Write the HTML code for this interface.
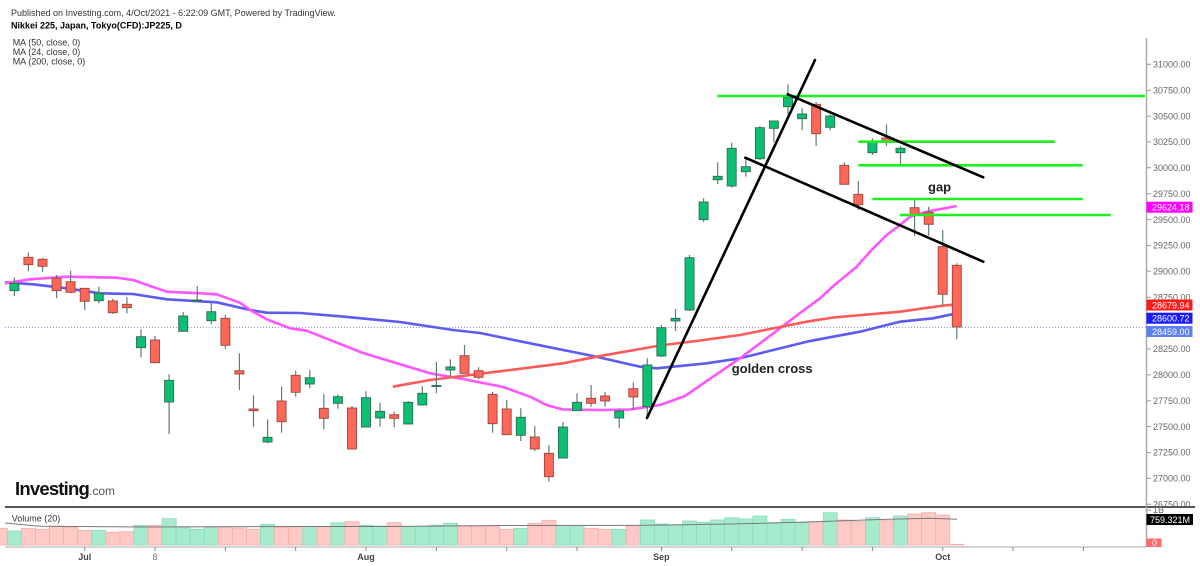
<!DOCTYPE html>
<html><head><meta charset="utf-8">
<style>
html,body{margin:0;padding:0;background:#fff;}
body{width:1200px;height:566px;overflow:hidden;}
svg{display:block;font-family:"Liberation Sans",Arial,sans-serif;}
.w{stroke:#5f7f70;stroke-width:1.2;fill:none;}
.g{fill:#0dbf72;stroke:#2f6b50;stroke-width:0.9;}
.r{fill:#fc6758;stroke:#9c463d;stroke-width:0.9;}
.vg{fill:#a7ebcf;stroke:#8bdbbb;stroke-width:0.8;}
.vr{fill:#ffc9c5;stroke:#f6aea8;stroke-width:0.8;}
.ax{font-size:9px;fill:#666;}
.gl{stroke:#1ef01e;stroke-width:2.6;}
.bl{stroke:#000;stroke-width:2.6;stroke-linecap:round;}
</style></head>
<body>
<svg width="1200" height="566" viewBox="0 0 1200 566" xmlns="http://www.w3.org/2000/svg">
<rect width="1200" height="566" fill="#fff"/>

<!-- header -->
<text x="11" y="16" font-size="9" fill="#333">Published on Investing.com, 4/Oct/2021 - 6:22:09 GMT, Powered by TradingView.</text>
<text x="11" y="28.3" font-size="9" font-weight="bold" fill="#000">Nikkei 225, Japan, Tokyo(CFD):JP225, D</text>
<text x="12.7" y="45.5" font-size="9" fill="#333">MA (50, close, 0)</text>
<text x="12.7" y="55" font-size="9" fill="#333">MA (24, close, 0)</text>
<text x="12.7" y="64.3" font-size="9" fill="#333">MA (200, close, 0)</text>

<!-- price dotted line -->
<line x1="5" y1="327.5" x2="1146" y2="327.5" stroke="#8a9cf0" stroke-width="1" stroke-dasharray="1,2"/>

<!-- MA lines -->
<polyline fill="none" stroke="#5c5cf2" stroke-width="2.6" stroke-linejoin="round" points="5,282.3 33,284.3 66.7,288.3 100,293.3 133,294 166.7,299.3 216.7,302.3 250,310 266.7,312.7 300,313 340,316.3 400,322 453,330 480,333 530,343.3 593,356 640,366.7 656.7,368.3 706.7,363.3 740,358.3 773.3,350 806.7,341.7 833,336.7 860,331.7 900,321.7 933,318.3 956.7,313.3"/>
<polyline fill="none" stroke="#ff55ff" stroke-width="2.6" stroke-linejoin="round" points="5,283.3 30,279.3 66.7,276.7 116.7,277.7 133,280 166.7,291.7 200,293.3 216.7,294.3 240,302.7 250,310 266.7,319.3 290,328.3 306.7,330.7 330,340 363,353 396.7,363.3 430,373.3 463,379 503,387 530,396.7 546.7,405 563,409.5 600,410 630,409.5 660,405 685,396 703.3,383.3 740,358.3 780,328.3 800,313 820,298.3 833.3,286 856.7,266.7 870,251.7 886.7,235 900,225 910,216.7 926.7,211.7 956.7,206"/>
<polyline fill="none" stroke="#ff5a5a" stroke-width="2.6" stroke-linejoin="round" points="392.7,386.7 430,380 496.7,371.7 563,363.3 596.7,356.7 640,349 660,345.5 700,340.5 740,335 780,327 806.7,321.7 833,317.5 900,311.7 940,306 956.7,304.3"/>

<!-- wicks -->
<path class="w" d="M14.4 277.3V296M28.4 252.7V271.3M42.5 258V272.3M56.6 275V298.3M70.6 270.7V293.3M84.7 288.3V310M98.8 286.7V303.3M112.8 298.7V314M126.9 297.3V313.3M141 329.3V357.3M155 336V362.7M169.1 374.3V434M183.2 312V331.3M197.2 286V301M211.3 301.7V324.3M225.4 315V348.7M239.4 353.3V390M253.5 395.3V426.7M267.6 419.3V443.3M281.6 386.7V432.7M295.7 370.7V396.7M309.8 370V388.3M323.8 394V429.3M337.9 394.3V408.7M352 406V449M366 391.3V427M380.1 402.7V426.7M394.2 411.7V427.3M408.2 401V424M422.3 386V405M436.4 361.7V393.3M450.4 359.3V376.7M464.5 345V373.3M478.6 367.3V379.3M492.6 391.7V432.7M506.7 400V434.7M520.8 408.3V441M534.8 426V450.7M548.9 445V481.7M562.9 422V458M577 393.3V410.7M591.1 385V406.7M605.1 392V406.7M619.2 408.3V428.3M633.3 382.3V410M647.3 358.3V416.7M661.4 325V357M675.5 309V331M689.5 255V311M703.6 198.3V222.3M717.7 162.3V184M731.7 142.7V187.7M745.8 156.7V176.7M759.9 126V160M773.9 121V142.3M788 84.3V114.3M802.1 108.3V130.3M816.1 102V146M830.2 114.3V130M844.3 162.3V184.3M858.3 181V210M872.4 138.3V155M886.5 124.3V146M900.5 146V166M914.6 200V235.7M928.7 206.7V235.7M942.7 230V305M956.8 263.3V339.3"/>

<!-- bodies -->
<rect class="g" x="9.9" y="283.3" width="9" height="7.4"/>
<rect class="r" x="23.9" y="257.3" width="9" height="7.4"/>
<rect class="r" x="38" y="259.3" width="9" height="7"/>
<rect class="r" x="52.1" y="278.3" width="9" height="12.4"/>
<rect class="r" x="66.1" y="281.7" width="9" height="10.6"/>
<rect class="r" x="80.2" y="288.3" width="9" height="13"/>
<rect class="g" x="94.3" y="293.3" width="9" height="7.4"/>
<rect class="r" x="108.3" y="301" width="9" height="11.7"/>
<rect class="r" x="122.4" y="304.3" width="9" height="3.4"/>
<rect class="g" x="136.5" y="336.7" width="9" height="11"/>
<rect class="r" x="150.5" y="340" width="9" height="22.7"/>
<rect class="g" x="164.6" y="380.3" width="9" height="21.7"/>
<rect class="g" x="178.7" y="316" width="9" height="15.3"/>
<rect class="g" x="192.7" y="300" width="9" height="1"/>
<rect class="g" x="206.8" y="311.7" width="9" height="9"/>
<rect class="r" x="220.9" y="318.3" width="9" height="27"/>
<rect class="r" x="234.9" y="370.7" width="9" height="3.3"/>
<rect class="r" x="249" y="409" width="9" height="1.7"/>
<rect class="g" x="263.1" y="437.3" width="9" height="4.7"/>
<rect class="r" x="277.1" y="401" width="9" height="20.7"/>
<rect class="r" x="291.2" y="375.3" width="9" height="17"/>
<rect class="g" x="305.3" y="377.7" width="9" height="6.3"/>
<rect class="r" x="319.3" y="408.3" width="9" height="10"/>
<rect class="g" x="333.4" y="396.7" width="9" height="6.6"/>
<rect class="r" x="347.5" y="408" width="9" height="41"/>
<rect class="g" x="361.5" y="397.7" width="9" height="29.3"/>
<rect class="g" x="375.6" y="411.3" width="9" height="6.7"/>
<rect class="r" x="389.7" y="414.7" width="9" height="3.6"/>
<rect class="g" x="403.7" y="402.3" width="9" height="21.7"/>
<rect class="g" x="417.8" y="393.3" width="9" height="11.7"/>
<rect class="g" x="431.9" y="385.5" width="9" height="1"/>
<rect class="g" x="445.9" y="367" width="9" height="3"/>
<rect class="r" x="460" y="355.7" width="9" height="17.6"/>
<rect class="r" x="474.1" y="370.7" width="9" height="6.6"/>
<rect class="r" x="488.1" y="394.3" width="9" height="29.4"/>
<rect class="r" x="502.2" y="409" width="9" height="25.7"/>
<rect class="g" x="516.3" y="417.3" width="9" height="18"/>
<rect class="r" x="530.3" y="437" width="9" height="12"/>
<rect class="r" x="544.4" y="453.3" width="9" height="23.4"/>
<rect class="g" x="558.4" y="427" width="9" height="31"/>
<rect class="g" x="572.5" y="402.3" width="9" height="8.4"/>
<rect class="r" x="586.6" y="398.3" width="9" height="5"/>
<rect class="r" x="600.6" y="396" width="9" height="5"/>
<rect class="g" x="614.7" y="411" width="9" height="7"/>
<rect class="r" x="628.8" y="388.7" width="9" height="8.3"/>
<rect class="g" x="642.8" y="365" width="9" height="41.7"/>
<rect class="g" x="656.9" y="327.7" width="9" height="28.3"/>
<rect class="g" x="671" y="318.3" width="9" height="2.7"/>
<rect class="g" x="685" y="257.7" width="9" height="52.3"/>
<rect class="g" x="699.1" y="202" width="9" height="17.7"/>
<rect class="g" x="713.2" y="176.3" width="9" height="3.4"/>
<rect class="g" x="727.2" y="148.3" width="9" height="37.7"/>
<rect class="g" x="741.3" y="166.7" width="9" height="5"/>
<rect class="g" x="755.4" y="127.7" width="9" height="31"/>
<rect class="g" x="769.4" y="121" width="9" height="7.3"/>
<rect class="g" x="783.5" y="97.3" width="9" height="9.4"/>
<rect class="g" x="797.6" y="114" width="9" height="4.7"/>
<rect class="r" x="811.6" y="104.3" width="9" height="29.4"/>
<rect class="g" x="825.7" y="116" width="9" height="11.3"/>
<rect class="r" x="839.8" y="165.3" width="9" height="19"/>
<rect class="r" x="853.8" y="194.3" width="9" height="10.4"/>
<rect class="g" x="867.9" y="142" width="9" height="10.7"/>
<rect class="r" x="882" y="138" width="9" height="4.3"/>
<rect class="g" x="896" y="148.3" width="9" height="4.4"/>
<rect class="r" x="910.1" y="207.7" width="9" height="7"/>
<rect class="r" x="924.2" y="212.3" width="9" height="12"/>
<rect class="r" x="938.2" y="246.7" width="9" height="47.6"/>
<rect class="r" x="952.3" y="265.3" width="9" height="61.7"/>

<!-- green horizontal lines -->
<line class="gl" x1="717.3" y1="96" x2="1145" y2="96"/>
<line class="gl" x1="858.3" y1="141.7" x2="1054.7" y2="141.7"/>
<line class="gl" x1="858.3" y1="165.3" x2="1082.7" y2="165.3"/>
<line class="gl" x1="872.3" y1="199" x2="1082.7" y2="199"/>
<line class="gl" x1="900" y1="215" x2="1110.7" y2="215"/>

<!-- black trend lines -->
<line class="bl" x1="647" y1="418" x2="815" y2="60"/>
<line class="bl" x1="787.7" y1="94.3" x2="983.3" y2="177.3"/>
<line class="bl" x1="745.3" y1="157.7" x2="983.3" y2="261.7"/>

<text x="928" y="191.3" font-size="13" font-weight="bold" fill="#222">gap</text>
<text x="731.7" y="372.8" font-size="13" font-weight="bold" fill="#222">golden cross</text>

<!-- logo -->
<text x="15" y="495" font-size="18.5" font-weight="bold" fill="#111" letter-spacing="-0.8">Investing</text>
<text x="89" y="495" font-size="12" fill="#555">.com</text>

<!-- volume bars -->
<g>
<rect class="vr" x="-6.7" y="528.3" width="14.07" height="16.7"/>
<rect class="vg" x="7.3" y="531" width="14.07" height="14"/>
<rect class="vr" x="21.4" y="528.3" width="14.07" height="16.7"/>
<rect class="vr" x="35.5" y="529.3" width="14.07" height="15.7"/>
<rect class="vr" x="49.5" y="526" width="14.07" height="19"/>
<rect class="vr" x="63.6" y="527.3" width="14.07" height="17.7"/>
<rect class="vr" x="77.7" y="530.3" width="14.07" height="14.7"/>
<rect class="vg" x="91.7" y="530.3" width="14.07" height="14.7"/>
<rect class="vr" x="105.8" y="532.3" width="14.07" height="12.7"/>
<rect class="vr" x="119.9" y="531.7" width="14.07" height="13.3"/>
<rect class="vg" x="133.9" y="525.3" width="14.07" height="19.7"/>
<rect class="vr" x="148" y="525.3" width="14.07" height="19.7"/>
<rect class="vg" x="162.1" y="518.7" width="14.07" height="26.3"/>
<rect class="vg" x="176.1" y="526.7" width="14.07" height="18.3"/>
<rect class="vg" x="190.2" y="529.3" width="14.07" height="15.7"/>
<rect class="vg" x="204.3" y="527.3" width="14.07" height="17.7"/>
<rect class="vr" x="218.3" y="526.7" width="14.07" height="18.3"/>
<rect class="vr" x="232.4" y="528" width="14.07" height="17"/>
<rect class="vr" x="246.5" y="529.3" width="14.07" height="15.7"/>
<rect class="vg" x="260.5" y="524.3" width="14.07" height="20.7"/>
<rect class="vr" x="274.6" y="527.3" width="14.07" height="17.7"/>
<rect class="vr" x="288.7" y="527.7" width="14.07" height="17.3"/>
<rect class="vg" x="302.7" y="527.7" width="14.07" height="17.3"/>
<rect class="vr" x="316.8" y="526.7" width="14.07" height="18.3"/>
<rect class="vg" x="330.9" y="522.7" width="14.07" height="22.3"/>
<rect class="vr" x="344.9" y="521.7" width="14.07" height="23.3"/>
<rect class="vg" x="359" y="525.3" width="14.07" height="19.7"/>
<rect class="vg" x="373.1" y="526" width="14.07" height="19"/>
<rect class="vr" x="387.1" y="522.7" width="14.07" height="22.3"/>
<rect class="vg" x="401.2" y="526.7" width="14.07" height="18.3"/>
<rect class="vg" x="415.3" y="526.7" width="14.07" height="18.3"/>
<rect class="vg" x="429.3" y="525.3" width="14.07" height="19.7"/>
<rect class="vg" x="443.4" y="523.3" width="14.07" height="21.7"/>
<rect class="vr" x="457.5" y="525.7" width="14.07" height="19.3"/>
<rect class="vr" x="471.5" y="526.7" width="14.07" height="18.3"/>
<rect class="vr" x="485.6" y="526.7" width="14.07" height="18.3"/>
<rect class="vr" x="499.7" y="529.3" width="14.07" height="15.7"/>
<rect class="vg" x="513.7" y="528.3" width="14.07" height="16.7"/>
<rect class="vr" x="527.8" y="523.3" width="14.07" height="21.7"/>
<rect class="vr" x="541.9" y="520.3" width="14.07" height="24.7"/>
<rect class="vg" x="555.9" y="526.7" width="14.07" height="18.3"/>
<rect class="vg" x="570" y="526.7" width="14.07" height="18.3"/>
<rect class="vr" x="584.1" y="528.3" width="14.07" height="16.7"/>
<rect class="vr" x="598.1" y="529.3" width="14.07" height="15.7"/>
<rect class="vg" x="612.2" y="529.3" width="14.07" height="15.7"/>
<rect class="vr" x="626.2" y="525.7" width="14.07" height="19.3"/>
<rect class="vg" x="640.3" y="520" width="14.07" height="25"/>
<rect class="vg" x="654.4" y="524" width="14.07" height="21"/>
<rect class="vg" x="668.4" y="525" width="14.07" height="20"/>
<rect class="vg" x="682.5" y="521" width="14.07" height="24"/>
<rect class="vg" x="696.6" y="522.3" width="14.07" height="22.7"/>
<rect class="vg" x="710.6" y="520" width="14.07" height="25"/>
<rect class="vg" x="724.7" y="517.7" width="14.07" height="27.3"/>
<rect class="vg" x="738.8" y="519" width="14.07" height="26"/>
<rect class="vg" x="752.8" y="516" width="14.07" height="29"/>
<rect class="vg" x="766.9" y="522.7" width="14.07" height="22.3"/>
<rect class="vg" x="781" y="519.3" width="14.07" height="25.7"/>
<rect class="vg" x="795" y="522.7" width="14.07" height="22.3"/>
<rect class="vr" x="809.1" y="521.7" width="14.07" height="23.3"/>
<rect class="vg" x="823.2" y="512.7" width="14.07" height="32.3"/>
<rect class="vr" x="837.2" y="520" width="14.07" height="25"/>
<rect class="vr" x="851.3" y="521.7" width="14.07" height="23.3"/>
<rect class="vg" x="865.4" y="517.7" width="14.07" height="27.3"/>
<rect class="vr" x="879.4" y="520.7" width="14.07" height="24.3"/>
<rect class="vg" x="893.5" y="516" width="14.07" height="29"/>
<rect class="vr" x="907.6" y="514" width="14.07" height="31"/>
<rect class="vr" x="921.6" y="512.7" width="14.07" height="32.3"/>
<rect class="vr" x="935.7" y="515" width="14.07" height="30"/>
<rect class="vr" x="949.8" y="544.3" width="14.07" height="0.7"/>
</g>
<polyline fill="none" stroke="#7a7a7a" stroke-width="1" points="5,523 40,526.3 150,527 300,526.5 390,526.5 500,525.5 650,525.3 730,524 800,522.3 880,519.5 930,518.3 957,519.3"/>
<text x="11.7" y="521.5" font-size="9" fill="#333">Volume (20)</text>

<!-- panel separators / axes -->
<line x1="5" y1="507" x2="1195" y2="507" stroke="#555" stroke-width="2"/>
<line x1="5" y1="547" x2="1146.5" y2="547" stroke="#bbb" stroke-width="1.2"/>
<line x1="1146.5" y1="38" x2="1146.5" y2="547" stroke="#aaa" stroke-width="1.5"/>

<!-- bottom ticks -->
<path stroke="#888" stroke-width="1" d="M84.7 547V551M155 547V551M225.4 547V551M295.7 547V551M366 547V551M436.4 547V551M506.7 547V551M577 547V551M661.4 547V551M731.7 547V551M802.1 547V551M872.4 547V551M942.7 547V551M1013 547V551M1083.4 547V551"/>
<text x="84.7" y="560" font-size="9" font-weight="bold" fill="#444" text-anchor="middle">Jul</text>
<text x="155" y="560" font-size="9" fill="#777" text-anchor="middle">8</text>
<text x="366" y="560" font-size="9" font-weight="bold" fill="#444" text-anchor="middle">Aug</text>
<text x="661.4" y="560" font-size="9" font-weight="bold" fill="#444" text-anchor="middle">Sep</text>
<text x="942.7" y="560" font-size="9" font-weight="bold" fill="#444" text-anchor="middle">Oct</text>

<!-- right axis ticks -->
<path stroke="#999" stroke-width="1" d="M1147 64.3H1151M1147 90.2H1151M1147 116.1H1151M1147 141.9H1151M1147 167.8H1151M1147 193.7H1151M1147 219.6H1151M1147 245.5H1151M1147 271.3H1151M1147 297.2H1151M1147 349H1151M1147 374.9H1151M1147 400.8H1151M1147 426.6H1151M1147 452.5H1151M1147 478.4H1151M1147 504.3H1151M1147 510H1151"/>
<g class="ax">
<text x="1153" y="67.5">31000.00</text>
<text x="1153" y="93.4">30750.00</text>
<text x="1153" y="119.3">30500.00</text>
<text x="1153" y="145.1">30250.00</text>
<text x="1153" y="171">30000.00</text>
<text x="1153" y="196.9">29750.00</text>
<text x="1153" y="222.8">29500.00</text>
<text x="1153" y="248.7">29250.00</text>
<text x="1153" y="274.5">29000.00</text>
<text x="1153" y="300.4">28750.00</text>
<text x="1153" y="352.2">28250.00</text>
<text x="1153" y="378.1">28000.00</text>
<text x="1153" y="404">27750.00</text>
<text x="1153" y="429.8">27500.00</text>
<text x="1153" y="455.7">27250.00</text>
<text x="1153" y="481.6">27000.00</text>
<text x="1153" y="507.5">26750.00</text>
<text x="1153" y="513">1B</text>
</g>

<!-- price label boxes -->
<rect x="1146.5" y="201.7" width="46" height="11" fill="#ff00ff"/>
<text x="1152" y="210.5" font-size="9" fill="#fff">29624.18</text>
<rect x="1146.5" y="299.5" width="46" height="11" fill="#ff1a1a"/>
<text x="1152" y="308.3" font-size="9" fill="#fff">28679.94</text>
<rect x="1146.5" y="312.7" width="46" height="11" fill="#1a1aff"/>
<text x="1152" y="321.5" font-size="9" fill="#fff">28600.72</text>
<rect x="1146.5" y="326" width="46" height="11" fill="#5b7ff0"/>
<text x="1152" y="334.8" font-size="9" fill="#fff">28459.00</text>
<rect x="1146.5" y="514" width="46.5" height="11" fill="#000"/>
<text x="1150" y="522.8" font-size="9" fill="#fff">759.321M</text>
<rect x="1146.5" y="538.5" width="15" height="8.5" fill="#ff6b6b"/>
<text x="1152" y="546" font-size="9" fill="#fff">0</text>
</svg>
</body></html>
